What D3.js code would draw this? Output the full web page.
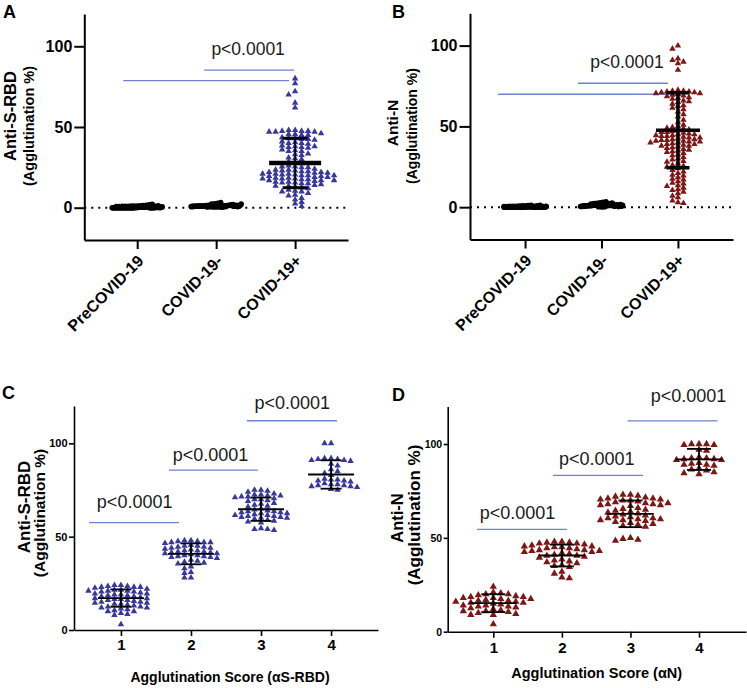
<!DOCTYPE html>
<html>
<head>
<meta charset="utf-8">
<script src="https://cdn.jsdelivr.net/npm/d3@7/dist/d3.min.js"></script>
<style>
html,body{margin:0;padding:0;background:#fff;}
svg{display:block;}
</style>
</head>
<body>
<svg id="chart" width="747" height="688"></svg>
<script>
// ---------------- DATA ----------------
const groupsAB = ["PreCOVID-19", "COVID-19-", "COVID-19+"];
const scoreCats = [1, 2, 3, 4];
const yTicks = [0, 50, 100];
const pText = "p<0.0001";

// Panel A : anti-S-RBD agglutination %
const sPre = [0,0,0,0,0,0,0,0,0,0,0,0,0,0,0,0,0,0,0,0,0.2,0.2,0.2,0.3,0.3,0.3,0.4,0.4,0.5,0.5,0.5,0.6,0.6,0.7,0.7,0.8,0.8,0.9,1,1,1.1,1.2,1.3,1.5,1.8,2.1,0,0,0,0,0.1,0.1,0.2,0.4,0.6,0.9,1.2,0,0.3,0.5];
const sNeg = [0.5,0.6,0.7,0.8,0.8,0.9,0.9,1,1,1,1,1.1,1.1,1.2,1.2,1.3,1.3,1.4,1.5,1.5,1.6,1.7,1.8,1.9,2,2.1,2.3,2.5,2.8,3.2,0.4,0.5,0.6,0.7,0.8,0.9,1,1,1.1,1.2,1.3,1.4,1.5,1.6,1.8,2,0.3,0.6,0.9,1.2,1.5,0.7,1,1.3,2.2];
const sPos = [80,77,72,70,65,62,
  48,48,47.5,47.5,47,47,47,47.5,
  46,45.5,45.5,45,45,
  43.5,43,43,42.5,42.5,42,
  41,40.5,40,40,39.5,
  38.5,38,38,37.5,37.5,37,
  36,35.5,35,35,
  33.5,33,32.5,
  31,30.5,30,
  28.5,28,27.5,
  26,25.5,25.5,25,25,
  24,23.5,23.5,23,23,22.5,22.5,22,22,
  21.5,21.5,21,21,21,20.5,20.5,20,20,20,19.5,19.5,
  19,19,18.5,18.5,18,18,18,17.5,17.5,17,17,17,
  16.5,16,16,15.5,15.5,15,15,14.5,
  14,13.5,13.5,13,12.5,12,
  11,10.5,10,10,
  9,8,7.5,
  6,5,
  3.5,2.5,
  1];
const meanA = [null, null, 27.7];
const sdA = [null, null, 15.3];

// Panel B : anti-N agglutination %
const nPre = [0,0,0,0,0,0,0,0,0,0,0,0,0,0,0,0,0,0.1,0.1,0.2,0.2,0.2,0.3,0.3,0.4,0.4,0.5,0.5,0.6,0.7,0.8,0.9,1,1.2,0,0,0,0.1,0.2,0.3,0.5,0.8,1.1,0,0,0.2,0.4,0.6,0,0.3];
const nNeg = [0.3,0.4,0.5,0.6,0.7,0.8,0.8,0.9,0.9,1,1,1,1.1,1.2,1.2,1.3,1.4,1.5,1.5,1.6,1.7,1.8,2,2.2,2.4,2.7,3,3.4,0.2,0.4,0.5,0.7,0.8,0.9,1,1.1,1.2,1.3,1.5,1.7,1.9,2.1,0.3,0.6,0.9,1.2,1.4,0.5,1,1.6,2.5,0.6,1.1];
const nPos = [100,98,92,91,90,89,85,
  72.5,72,72,71.5,71.5,71,71,70.5,70.5,70,
  69.5,69,68.5,68,67.5,
  67,66,65.5,65,
  64,63,62.5,
  61.5,60.5,
  59,57.5,
  56,
  54,52.5,
  51,50,
  49.5,49,48.5,48,
  47.5,47,46.5,46.5,46,45.5,45,
  45,44.5,44.5,44,44,43.5,43,43,42.5,
  42,42,41.5,41.5,41,41,40.5,40.5,40,40,
  39.5,39,39,38.5,38,38,37.5,
  37,36.5,36,35.5,35,
  34.5,34,33.5,32.5,
  32,31,30,
  29.5,28.5,28,
  27,26,25.5,
  25,24,23,
  22,21,20,
  19.5,18.5,17.5,
  17,16,15,
  14.5,13.5,13,
  12,11,10.5,
  9.5,8.5,
  7,6,
  4,3,2.5];
const meanB = [null, null, 47.6];
const sdB = [null, null, 23.2];

// Panel C : anti-S-RBD by agglutination score
const cScore1 = [24,24,23.5,23.5,23,23,23,22.5,
  22,21.5,21.5,21,21,21,20.5,20.5,20,
  19.5,19.5,19,19,18.5,18.5,18,18,
  17.5,17,17,16.5,16.5,16,16,15.5,
  15,15,14.5,14.5,14,14,13.5,
  13,12.5,12.5,12,12,11.5,
  11,10.5,10,10,
  9,8.5,8,
  3];
const cScore2 = [48,48,47.5,47.5,47,47,47,46.5,
  45.5,45,45,44.5,44.5,44,44,43.5,
  43,42.5,42.5,42,42,41.5,41.5,41,41,
  40.5,40,40,39.5,39.5,39,39,38.5,
  37.5,37,36.5,36,35.5,
  34,33,
  31,30.5,
  28,28];
const cScore3 = [75,75,74.5,74,
  73,72.5,72.5,72,72,71.5,71.5,71,
  70.5,70,70,69.5,69,
  68,67.5,67,66.5,66,
  65,64.5,64,63.5,63.5,63,63,62.5,62.5,
  62,61.5,61.5,61,61,60.5,60.5,60,60,
  59.5,59,58.5,58,57.5,
  54.5,54,54,53.5];
const cScore4 = [100,100,
  92,92,91.5,91.5,91,91,90.5,
  89,88,
  86,85,84,83,
  81,80.5,80.5,80,80,79.5,
  78.5,78,78,77.5,77.5,77,77,76.5,
  75.5,75];
const meanC = [17.1, 40.8, 64.7, 83.3];
const sdC = [4.65, 5.6, 6.25, 7.6];

// Panel D : anti-N by agglutination score
const dScore1 = [24,
  21,20.5,20,20,19.5,
  19,18.5,18.5,18,18,17.5,17.5,
  17,16.5,16.5,16,16,15.5,15.5,15,
  14.5,14,14,13.5,13.5,13,12.5,
  12,11.5,11,11,10.5,10,
  9.5,9,9,
  4];
const dScore2 = [48,48,47.5,47.5,47,47,46.5,
  46,45.5,45.5,45,45,44.5,44.5,
  44,43.5,43.5,43,43,42.5,42.5,42,
  41.5,41,40.5,40.5,40,39.5,
  38.5,38,37.5,37,36.5,
  35.5,35,34.5,
  32,31,
  29,28.5];
const dScore3 = [73,73,72.5,72,
  71.5,71,71,70.5,70.5,70,70,69.5,
  69,68.5,68.5,68,68,67.5,67.5,67,
  66,65.5,65,64.5,64,
  63.5,63,62.5,62,61.5,
  61,60.5,60.5,60,60,59.5,59.5,59,
  58.5,58,57.5,57,56.5,56,
  50,49.5,49,48.5];
const dScore4 = [100,100,100,99.5,99.5,
  97,96.5,
  93,92.5,92.5,92,92,91.5,91.5,
  90,89.5,89,89,88.5,
  87,86.5,86,
  85,84.5,84];
const meanD = [15.2, 40.6, 62.8, 91.8];
const sdD = [4.75, 5.8, 7.1, 5.6];

// ---------------- LAYOUT ----------------
const FONT = "'Liberation Sans', Arial, Helvetica, sans-serif";
const BLUE = "#38389c";
const RED = "#7e1616";
const BRACKET = "#6f82d2";
const svg = d3.select("#chart");

function swarmLayout(values, y, cx, w, h, step) {
  const sorted = values.map(v => v).sort((a, b) => b - a);
  const placed = [];
  sorted.forEach((v, k) => {
    const py = y(v);
    let off = 0;
    for (let s = 0; s < 4000; s++) {
      const mag = Math.ceil(s / 2) * step;
      const cand = s === 0 ? 0 : (((s % 2 === 1) === (k % 2 === 0)) ? mag : -mag);
      if (!placed.some(p => Math.abs(p.dx - cand) < w && Math.abs(p.y - py) < h)) { off = cand; break; }
    }
    placed.push({dx: off, y: py});
  });
  return placed.map(p => ({x: cx + p.dx, y: p.y}));
}

function rowLayout(values, y, cx, rowH, dotW, maxW) {
  const pts = values.map((v, i) => ({v, i, py: y(v)}));
  const rows = d3.group(pts, p => Math.round(p.py / rowH));
  const out = [];
  for (const [, r] of rows) {
    const n = r.length;
    const width = Math.min((n - 1) * dotW, maxW);
    const sp = n > 1 ? width / (n - 1) : 0;
    r.forEach((p, i) => out.push({x: cx - width / 2 + i * sp, y: p.py}));
  }
  return out;
}

function drawPanel(cfg) {
  const g = svg.append("g");
  const x = d3.scaleLinear().domain(cfg.xDomain).range(cfg.xRange);
  const y = d3.scaleLinear().domain(cfg.yDomain).range(cfg.yRange);

  if (cfg.zeroLine) {
    g.append("line")
      .attr("x1", cfg.xRange[0]).attr("x2", cfg.xRange[1])
      .attr("y1", y(0)).attr("y2", y(0))
      .attr("stroke", "#000").attr("stroke-width", 2)
      .attr("stroke-dasharray", "2,5");
  }

  cfg.brackets.forEach(b => {
    g.append("line")
      .attr("x1", x(b.from)).attr("x2", x(b.to))
      .attr("y1", y(b.y)).attr("y2", y(b.y))
      .attr("stroke", BRACKET).attr("stroke-width", 1.3);
  });
  cfg.pLabels.forEach(p => {
    g.append("text")
      .attr("x", x(p.x)).attr("y", y(p.y))
      .attr("text-anchor", "middle")
      .attr("font-family", FONT).attr("font-size", cfg.pSize)
      .attr("fill", "#1a1a1a")
      .text(pText);
  });

  cfg.series.forEach((s, i) => {
    const cx = x(cfg.positions[i]);
    if (s.kind === "dot") {
      const pts = rowLayout(s.values, y, cx, 2.6, 3, cfg.dotMaxW);
      g.append("g").selectAll("circle").data(pts).join("circle")
        .attr("cx", d => d.x).attr("cy", d => d.y).attr("r", 2.8)
        .attr("fill", "#000");
    } else {
      const pts = swarmLayout(s.values, y, cx, cfg.sw.w, cfg.sw.h, 0.5);
      const sym = d3.symbol().type(d3.symbolTriangle).size(cfg.sw.size)();
      g.append("g").selectAll("path").data(pts).join("path")
        .attr("d", sym)
        .attr("transform", d => `translate(${d.x},${d.y})`)
        .attr("fill", cfg.color);
    }
  });

  const eb = cfg.eb;
  cfg.means.forEach((m, i) => {
    if (m == null) return;
    const cx = x(cfg.positions[i]);
    const s = cfg.sds[i];
    g.append("line").attr("x1", cx).attr("x2", cx)
      .attr("y1", y(m - s)).attr("y2", y(m + s))
      .attr("stroke", "#000").attr("stroke-width", eb.vw);
    [m - s, m + s].forEach(v => {
      g.append("line").attr("x1", cx - eb.capHalf).attr("x2", cx + eb.capHalf)
        .attr("y1", y(v)).attr("y2", y(v))
        .attr("stroke", "#000").attr("stroke-width", eb.capW);
    });
    g.append("line").attr("x1", cx - eb.meanHalf).attr("x2", cx + eb.meanHalf)
      .attr("y1", y(m)).attr("y2", y(m))
      .attr("stroke", "#000").attr("stroke-width", eb.meanW);
  });

  const yAxis = d3.axisLeft(y).tickValues(yTicks).tickSize(cfg.yTickSize).tickSizeOuter(0).tickPadding(cfg.yTickPad);
  const ya = g.append("g").attr("transform", `translate(${cfg.xRange[0]},0)`).call(yAxis);
  ya.select(".domain").attr("stroke-width", cfg.axisW);
  ya.selectAll(".tick line").attr("stroke-width", cfg.axisW);
  ya.selectAll("text").attr("font-family", FONT).attr("font-weight", "bold")
    .attr("font-size", cfg.yTickFont).attr("fill", "#000");

  const xAxis = d3.axisBottom(x).tickValues(cfg.positions).tickSize(cfg.xTickSize).tickSizeOuter(0)
    .tickPadding(cfg.xTickPad).tickFormat((d, i) => cfg.labels[i]);
  const xa = g.append("g").attr("transform", `translate(0,${cfg.yRange[0]})`).call(xAxis);
  xa.select(".domain").attr("stroke-width", cfg.axisW);
  xa.selectAll(".tick line").attr("stroke-width", cfg.axisW);
  const xt = xa.selectAll("text").attr("font-family", FONT).attr("font-weight", "bold")
    .attr("font-size", cfg.xTickFont).attr("fill", "#000");
  if (cfg.rotate) {
    xt.attr("x", null).attr("y", null).attr("dy", "0.35em")
      .attr("text-anchor", "end")
      .attr("transform", `translate(${cfg.rotOff[0]},${cfg.rotOff[1]}) rotate(-45)`);
  }

  cfg.titles.forEach(t => {
    g.append("text")
      .attr("transform", `translate(${t.x},${t.y}) rotate(-90)`)
      .attr("text-anchor", "middle")
      .attr("font-family", FONT).attr("font-weight", "bold").attr("font-size", t.size)
      .attr("fill", "#000")
      .text(t.text);
  });
  if (cfg.xTitle) {
    g.append("text").attr("x", cfg.xTitle.x).attr("y", cfg.xTitle.y)
      .attr("text-anchor", "middle")
      .attr("font-family", FONT).attr("font-weight", "bold").attr("font-size", cfg.xTitle.size)
      .attr("fill", "#000").text(cfg.xTitle.text);
  }
  g.append("text").attr("x", cfg.letter.x).attr("y", cfg.letter.y)
    .attr("font-family", FONT).attr("font-weight", "bold").attr("font-size", 18)
    .attr("fill", "#000").text(cfg.letter.t);
}

drawPanel({
  xDomain: [-0.67, 2.67], xRange: [84.3, 348],
  yDomain: [-20, 120], yRange: [240, 14],
  positions: [0, 1, 2], labels: groupsAB, rotate: true, rotOff: [3, 18],
  zeroLine: true, dotMaxW: 50,
  series: [{kind: "dot", values: sPre}, {kind: "dot", values: sNeg}, {kind: "tri", values: sPos}],
  color: BLUE, sw: {w: 6.2, h: 4, size: 18},
  means: meanA, sds: sdA,
  eb: {meanHalf: 26, meanW: 4.5, capHalf: 12.5, capW: 3, vw: 1.5},
  brackets: [{from: 0.848, to: 1.987, y: 85.2}, {from: -0.177, to: 1.924, y: 78.7}],
  pLabels: [{x: 1.405, y: 94.7}], pSize: 17.5,
  yTickSize: 10, yTickPad: 2, yTickFont: 16, xTickSize: 9, xTickPad: 3, xTickFont: 16, axisW: 2,
  titles: [{text: "Anti-S-RBD", x: 16, y: 116, size: 16.5}, {text: "(Agglutination %)", x: 34, y: 126, size: 14.5}],
  letter: {t: "A", x: 3, y: 18}
});

drawPanel({
  xDomain: [-0.72, 2.72], xRange: [470, 733],
  yDomain: [-20, 120], yRange: [239.5, 13.3],
  positions: [0, 1, 2], labels: groupsAB, rotate: true, rotOff: [3, 18],
  zeroLine: true, dotMaxW: 42,
  series: [{kind: "dot", values: nPre}, {kind: "dot", values: nNeg}, {kind: "tri", values: nPos}],
  color: RED, sw: {w: 5.4, h: 4, size: 18},
  means: meanB, sds: sdB,
  eb: {meanHalf: 22, meanW: 3.5, capHalf: 11.5, capW: 3.5, vw: 3.5},
  brackets: [{from: 0.693, to: 1.869, y: 76.7}, {from: -0.353, to: 1.856, y: 69.9}],
  pLabels: [{x: 1.333, y: 86.2}], pSize: 17.5,
  yTickSize: 10.5, yTickPad: 2, yTickFont: 16, xTickSize: 9, xTickPad: 3, xTickFont: 16, axisW: 2,
  titles: [{text: "Anti-N", x: 398, y: 123, size: 15.5}, {text: "(Agglutination %)", x: 417, y: 126, size: 14}],
  letter: {t: "B", x: 392, y: 18}
});

drawPanel({
  xDomain: [0.33, 4.67], xRange: [74, 378],
  yDomain: [0, 120], yRange: [630, 406],
  positions: scoreCats, labels: scoreCats.map(String), rotate: false,
  zeroLine: false,
  series: [cScore1, cScore2, cScore3, cScore4].map(v => ({kind: "tri", values: v})),
  color: BLUE, sw: {w: 6.2, h: 4.6, size: 18},
  means: meanC, sds: sdC,
  eb: {meanHalf: 23, meanW: 1.8, capHalf: 10.5, capW: 1.8, vw: 1.8},
  brackets: [{from: 0.544, to: 1.829, y: 57.5}, {from: 1.686, to: 2.957, y: 85.7}, {from: 2.80, to: 4.084, y: 112.1}],
  pLabels: [{x: 1.196, y: 65.3}, {x: 2.28, y: 90.8}, {x: 3.446, y: 118.4}], pSize: 18,
  yTickSize: 5, yTickPad: 1.5, yTickFont: 11, xTickSize: 6, xTickPad: 3, xTickFont: 15, axisW: 1.6,
  titles: [{text: "Anti-S-RBD", x: 30, y: 507, size: 17}, {text: "(Agglutination %)", x: 45, y: 513, size: 15.5}],
  xTitle: {text: "Agglutination Score (\u03B1S-RBD)", x: 230, y: 682, size: 14},
  letter: {t: "C", x: 2, y: 399}
});

drawPanel({
  xDomain: [0.335, 4.685], xRange: [447.7, 746],
  yDomain: [0, 120], yRange: [631.7, 406.5],
  positions: scoreCats, labels: scoreCats.map(String), rotate: false,
  zeroLine: false,
  series: [dScore1, dScore2, dScore3, dScore4].map(v => ({kind: "tri", values: v})),
  color: RED, sw: {w: 7.1, h: 5.2, size: 23},
  means: meanD, sds: sdD,
  eb: {meanHalf: 23.3, meanW: 1.8, capHalf: 12, capW: 1.8, vw: 1.8},
  brackets: [{from: 0.762, to: 2.075, y: 54.55}, {from: 1.871, to: 3.183, y: 83.3}, {from: 2.958, to: 4.271, y: 112.3}],
  pLabels: [{x: 1.353, y: 60.0}, {x: 2.508, y: 88.8}, {x: 3.847, y: 122.6}], pSize: 18,
  yTickSize: 4, yTickPad: 1.5, yTickFont: 10.5, xTickSize: 6, xTickPad: 4.5, xTickFont: 15, axisW: 1.6,
  titles: [{text: "Anti-N", x: 403, y: 518, size: 16.5}, {text: "(Agglutination %)", x: 420, y: 515, size: 17}],
  xTitle: {text: "Agglutination Score (\u03B1N)", x: 596.7, y: 678, size: 14.5},
  letter: {t: "D", x: 392, y: 401}
});
</script>
</body>
</html>
